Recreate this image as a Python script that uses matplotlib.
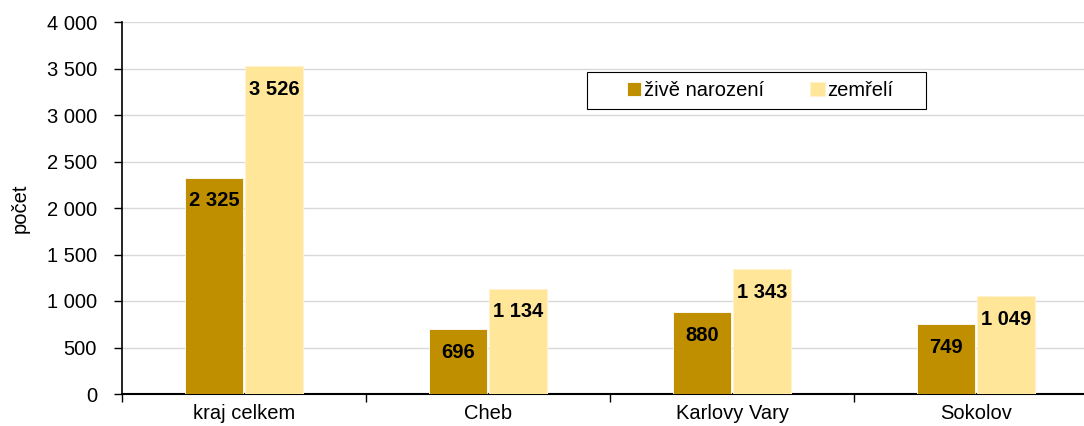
import matplotlib
matplotlib.use("Agg")
import matplotlib.pyplot as plt
from matplotlib.patches import Rectangle
import numpy as np

categories = ["kraj celkem", "Cheb", "Karlovy Vary", "Sokolov"]
zive = [2325, 696, 880, 749]
zemreli = [3526, 1134, 1343, 1049]
series_names = ["živě narození", "zemřelí"]
yticks = [0, 500, 1000, 1500, 2000, 2500, 3000, 3500, 4000]

plt.rcParams['font.family'] = ['Liberation Sans', 'DejaVu Sans']

def fmt(v):
    return f"{v:,}".replace(",", " ")

W, H = 1084, 426
fig = plt.figure(figsize=(W/100, H/100), dpi=100)
ax = fig.add_axes([122/W, 1-394/H, (1098-122)/W, (394-22)/H])

x = np.arange(len(categories))
w = 0.238
c1 = "#BF8F00"
c2 = "#FFE699"
b1 = ax.bar(x - w/2 - 0.004, zive, w, color=c1, edgecolor="white", linewidth=0.6, zorder=3, label=series_names[0])
b2 = ax.bar(x + w/2 + 0.004, zemreli, w, color=c2, edgecolor="#FFF2CC", linewidth=0.8, zorder=3, label=series_names[1])

for bars, vals in ((b1, zive), (b2, zemreli)):
    for r, v in zip(bars, vals):
        ax.annotate(fmt(v), (r.get_x() + r.get_width()/2, v), xytext=(0, -23),
                    textcoords="offset pixels",
                    ha="center", va="center", fontsize=14.5, fontweight="bold", zorder=4)

fs = 14.5
ax.set_xlim(-0.5, len(categories) - 0.5)
ax.set_ylim(0, 4000)
ax.set_yticks(yticks)
ax.set_yticklabels([fmt(v) for v in yticks], fontsize=fs)
ax.yaxis.grid(True, color="#d9d9d9", linewidth=1, zorder=0)
ax.set_axisbelow(True)
ax.tick_params(axis="y", length=6, width=1, direction="out", pad=12)

ax.set_xticks(x)
ax.set_xticklabels(categories, fontsize=fs)
ax.tick_params(axis="x", length=0, pad=7)
ax.set_xticks(np.arange(len(categories) + 1) - 0.5, minor=True)
ax.tick_params(axis="x", which="minor", length=6, width=1, direction="out")

for s in ("top", "right"):
    ax.spines[s].set_visible(False)
ax.spines["left"].set_linewidth(1.2)
ax.spines["bottom"].set_linewidth(1.5)

ax.set_ylabel("počet", fontsize=fs, labelpad=12)

# legend frame drawn separately
fig.patches.append(Rectangle((587/W, 1-109/H), (926-587)/W, (109-72)/H,
                             transform=fig.transFigure, facecolor="white",
                             edgecolor="black", linewidth=0.8, zorder=5))
leg = fig.legend(handles=[b1, b2], labels=series_names,
                 loc="center left", bbox_to_anchor=(627/W, 1-90.5/H), ncol=2,
                 frameon=False, fontsize=fs,
                 handlelength=0.7, handleheight=0.7, handletextpad=0.15, columnspacing=2.3,
                 borderpad=0, borderaxespad=0)
leg.set_zorder(6)

fig.savefig("out.png", dpi=100)
